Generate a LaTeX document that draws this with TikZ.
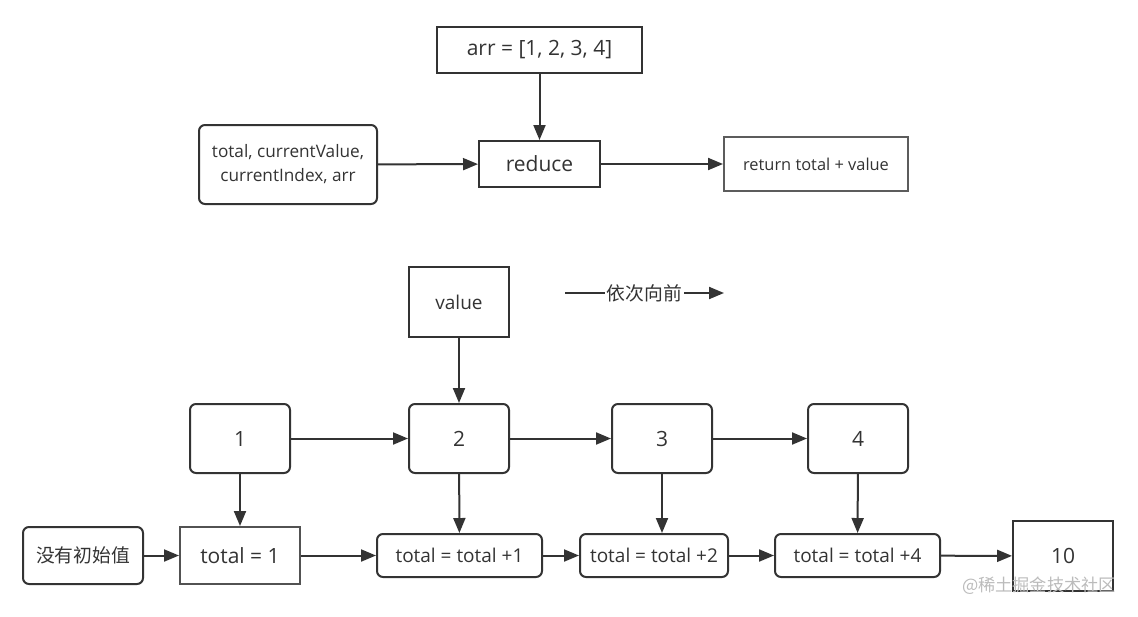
\documentclass[tikz,border=0pt]{standalone}
\usepackage{fontspec}
\setmainfont{Open Sans}
\newfontfamily\cjk{Noto Sans CJK SC}
\usetikzlibrary{arrows.meta}
\definecolor{ink}{HTML}{333333}
\definecolor{mark}{HTML}{BBBBBB}
\tikzset{
	box/.style      = {draw=ink, line width=1pt, rectangle, align=center,
		inner sep=0pt, text=ink},
	rbox/.style     = {box, rounded corners=3pt},
	big/.style      = {font=\fontsize{10.5}{12}\selectfont},
	mid/.style      = {font=\fontsize{9.5}{11}\selectfont},
	small/.style    = {font=\fontsize{8.2}{11}\selectfont},
	han/.style      = {font=\cjk\fontsize{9.4}{11}\selectfont, text=ink},
	point/.style    = {coordinate}
}
\newcommand{\stepbox}[1]{total = total +#1}

\begin{document}
\begin{tikzpicture}[x=0.5pt, y=-0.5pt, line width=1pt, draw=ink,
	>={Triangle[length=7.5pt,width=6pt]}]
	\useasboundingbox (0,0) rectangle (1138,616);
	% top part
	\draw
	node at (539.5,50) [box, big, minimum width=102.5pt, minimum height=23pt] (arr) {arr = [1, 2, 3, 4]}
	node at (539.5,164) [box, big, minimum width=60.5pt, minimum height=23pt] (red) {reduce}
	node at (288,164.5) [rbox, small, font=\fontsize{8.6}{12}\selectfont, minimum width=89pt, minimum height=39.5pt] (args) {total, currentValue,\\currentIndex, arr}
	node at (816,164) [box, small, draw=ink!80, minimum width=92pt, minimum height=27pt] (ret) {return total + value};

	\draw[->](arr)--(red);
	\draw[->](args)--(red);
	\draw[->](red)--(ret);

	% bottom part
	\draw
	node at (459,302) [box, mid, minimum width=50pt, minimum height=35pt] (val) {value}
	node at (240,438.5) [rbox, big, minimum width=50pt, minimum height=34.5pt] (n1) {1}
	node at (459,438.5) [rbox, big, minimum width=50pt, minimum height=34.5pt] (n2) {2}
	node at (662,438.5) [rbox, big, minimum width=50pt, minimum height=34.5pt] (n3) {3}
	node at (858,438.5) [rbox, big, minimum width=50pt, minimum height=34.5pt] (n4) {4}
	node at (83,555.5) [rbox, han, minimum width=60pt, minimum height=28.5pt] (init) {没有初始值}
	node at (240,555.5) [box, big, draw=ink!85, minimum width=60pt, minimum height=28.5pt] (t1) {total = 1}
	node at (459.5,555.5) [rbox, mid, minimum width=82.5pt, minimum height=21.5pt] (t2) {\stepbox{1}}
	node at (654,555.5) [rbox, mid, minimum width=74pt, minimum height=21.5pt] (t3) {\stepbox{2}}
	node at (857.5,555.5) [rbox, mid, minimum width=82.5pt, minimum height=21.5pt] (t4) {\stepbox{4}}
	node at (1063,556) [box, big, minimum width=50pt, minimum height=35pt] (ten) {10};

	\coordinate (go1) at (565,293);
	\coordinate (go2) at (724,293);
	\draw[->](go1)--node[han, fill=white, inner sep=1pt]{依次向前}(go2);

	\draw[->](val)--(n2);
	\draw[->](n1)--(n2);
	\draw[->](n2)--(n3);
	\draw[->](n3)--(n4);
	\draw[->](n1)--(t1);
	\draw[->](n2)--(t2);
	\draw[->](n3.south)--(t3.north-|n3.south);
	\draw[->](n4)--(t4);
	\draw[->](init)--(t1);
	\draw[->](t1)--(t2);
	\draw[->](t2)--(t3);
	\draw[->](t3)--(t4);
	\draw[->](t4)--(ten);

	\node at (1039,586) [han, text=mark, font=\cjk\fontsize{8.6}{10}\selectfont] (wm) {@稀土掘金技术社区};
\end{tikzpicture}
\end{document}
